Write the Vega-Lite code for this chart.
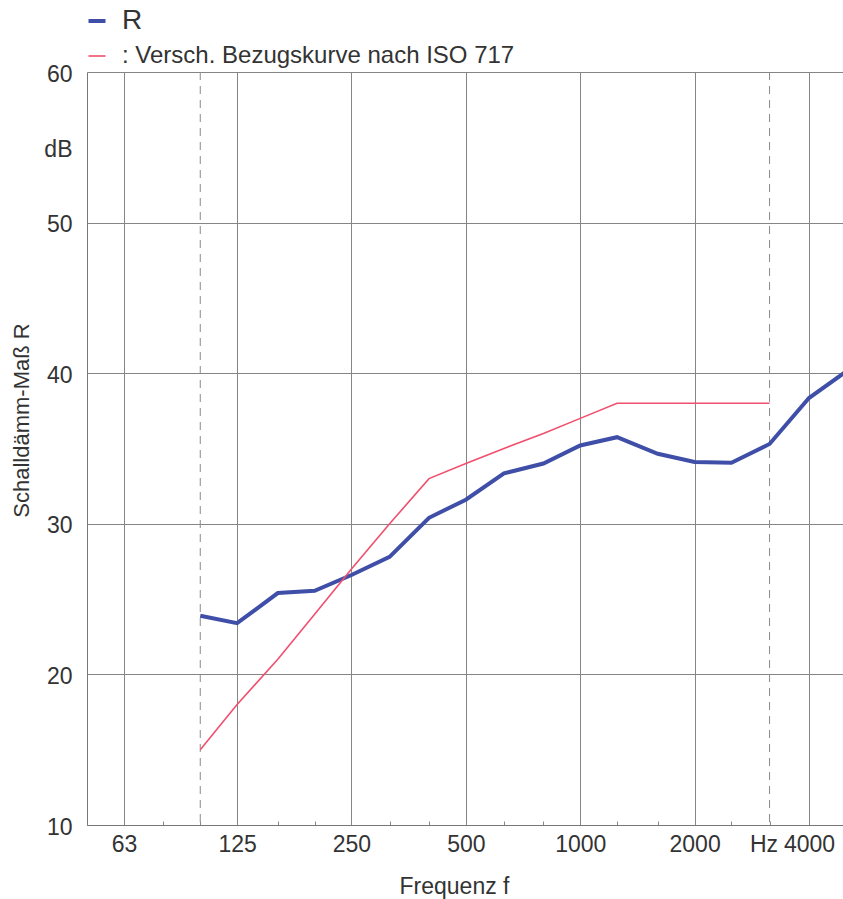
{
  "$schema": "https://vega.github.io/schema/vega-lite/v6.json",
  "width": 756,
  "height": 753,
  "autosize": {"type": "none"},
  "padding": {"left": 87, "top": 72, "right": 0, "bottom": 74},
  "background": "white",
  "config": {"font": "Liberation Sans", "view": {"stroke": null}},
  "datasets": {
    "curves": [
      {"f": 100, "serie": "R", "value": 23.9},
      {"f": 125, "serie": "R", "value": 23.4},
      {"f": 160, "serie": "R", "value": 25.4},
      {"f": 200, "serie": "R", "value": 25.55},
      {"f": 250, "serie": "R", "value": 26.6},
      {"f": 315, "serie": "R", "value": 27.8},
      {"f": 400, "serie": "R", "value": 30.4},
      {"f": 500, "serie": "R", "value": 31.6},
      {"f": 630, "serie": "R", "value": 33.35},
      {"f": 800, "serie": "R", "value": 34.0},
      {"f": 1000, "serie": "R", "value": 35.2},
      {"f": 1250, "serie": "R", "value": 35.75},
      {"f": 1600, "serie": "R", "value": 34.65},
      {"f": 2000, "serie": "R", "value": 34.1},
      {"f": 2500, "serie": "R", "value": 34.05},
      {"f": 3150, "serie": "R", "value": 35.3},
      {"f": 4000, "serie": "R", "value": 38.35},
      {"f": 5000, "serie": "R", "value": 40.1},
      {"f": 100, "serie": ": Versch. Bezugskurve nach ISO 717", "value": 15},
      {"f": 125, "serie": ": Versch. Bezugskurve nach ISO 717", "value": 18},
      {"f": 160, "serie": ": Versch. Bezugskurve nach ISO 717", "value": 21},
      {"f": 200, "serie": ": Versch. Bezugskurve nach ISO 717", "value": 24},
      {"f": 250, "serie": ": Versch. Bezugskurve nach ISO 717", "value": 27},
      {"f": 315, "serie": ": Versch. Bezugskurve nach ISO 717", "value": 30},
      {"f": 400, "serie": ": Versch. Bezugskurve nach ISO 717", "value": 33},
      {"f": 500, "serie": ": Versch. Bezugskurve nach ISO 717", "value": 34},
      {"f": 630, "serie": ": Versch. Bezugskurve nach ISO 717", "value": 35},
      {"f": 800, "serie": ": Versch. Bezugskurve nach ISO 717", "value": 36},
      {"f": 1000, "serie": ": Versch. Bezugskurve nach ISO 717", "value": 37},
      {"f": 1250, "serie": ": Versch. Bezugskurve nach ISO 717", "value": 38},
      {"f": 1600, "serie": ": Versch. Bezugskurve nach ISO 717", "value": 38},
      {"f": 2000, "serie": ": Versch. Bezugskurve nach ISO 717", "value": 38},
      {"f": 2500, "serie": ": Versch. Bezugskurve nach ISO 717", "value": 38},
      {"f": 3150, "serie": ": Versch. Bezugskurve nach ISO 717", "value": 38}
    ],
    "limits": [{"f": 100}, {"f": 3150}]
  },
  "layer": [
    {
      "data": {"name": "limits"},
      "mark": {"type": "rule", "strokeDash": [8, 6], "color": "#8a8a8a", "strokeWidth": 1},
      "encoding": {
        "x": {"field": "f", "type": "quantitative", "scale": {"type": "log", "domain": [50.34, 4916], "nice": false}}
      }
    },
    {
      "data": {"name": "curves"},
      "mark": {"type": "line", "clip": true},
      "encoding": {
        "x": {
          "field": "f",
          "type": "quantitative",
          "scale": {"type": "log", "domain": [50.34, 4916], "nice": false},
          "axis": {
            "title": "Frequenz f",
            "titleFontSize": 23,
            "titleFontWeight": "normal",
            "titleColor": "#333",
            "titleX": 367,
            "titleY": 61,
            "titleBaseline": "middle",
            "titleAnchor": "middle",
            "values": [63, 80, 100, 125, 160, 200, 250, 315, 400, 500, 630, 800, 1000, 1250, 1600, 2000, 2500, 3150, 4000],
            "labelExpr": "indexof([63,125,250,500,1000,2000,4000], datum.value) >= 0 ? '' + datum.value : (datum.value == 3150 ? 'Hz' : '')",
            "labelFontSize": 23,
            "labelColor": "#333",
            "labelOverlap": false,
            "labelFlush": false,
            "labelPadding": 12,
            "labelOffset": {"condition": {"test": "datum.value == 3150", "value": -6}, "value": 0},
            "tickSize": -4,
            "tickColor": "#888",
            "domainColor": "#777",
            "grid": true,
            "gridColor": "#858585",
            "gridOpacity": {"condition": {"test": "indexof([63,125,250,500,1000,2000,4000], datum.value) < 0", "value": 0}, "value": 1}
          }
        },
        "y": {
          "field": "value",
          "type": "quantitative",
          "scale": {"domain": [10, 60], "nice": false, "zero": false},
          "axis": {
            "title": "Schalldämm-Maß R",
            "titleFontSize": 22,
            "titleFontWeight": "normal",
            "titleColor": "#333",
            "titleX": -66,
            "titleY": 348,
            "titleBaseline": "middle",
            "titleAngle": -90,
            "values": [10, 20, 30, 40, 50, 55, 60],
            "labelExpr": "datum.value == 55 ? 'dB' : '' + datum.value",
            "labelFontSize": 23,
            "labelColor": "#333",
            "labelPadding": 15,
            "labelOffset": 2,
            "ticks": false,
            "domainColor": "#777",
            "grid": true,
            "gridColor": "#858585",
            "gridOpacity": {"condition": {"test": "datum.value == 55", "value": 0}, "value": 1}
          }
        },
        "color": {
          "field": "serie",
          "type": "nominal",
          "scale": {"domain": ["R", ": Versch. Bezugskurve nach ISO 717"], "range": ["#3f4fa8", "#f04f6e"]},
          "legend": {
            "title": null,
            "orient": "none",
            "legendX": -2,
            "legendY": -63,
            "direction": "vertical",
            "padding": 0,
            "symbolType": "stroke",
            "symbolSize": 289,
            "symbolStrokeWidth": {"expr": "datum.label == 'R' ? 4 : 2"},
            "labelFontSize": {"expr": "datum.label == 'R' ? 28 : 24"},
            "labelColor": "#333",
            "labelOffset": 13,
            "rowPadding": 9,
            "labelLimit": 600
          }
        },
        "strokeWidth": {
          "field": "serie",
          "type": "nominal",
          "scale": {"domain": ["R", ": Versch. Bezugskurve nach ISO 717"], "range": [4, 1.6]},
          "legend": null
        }
      }
    }
  ]
}
